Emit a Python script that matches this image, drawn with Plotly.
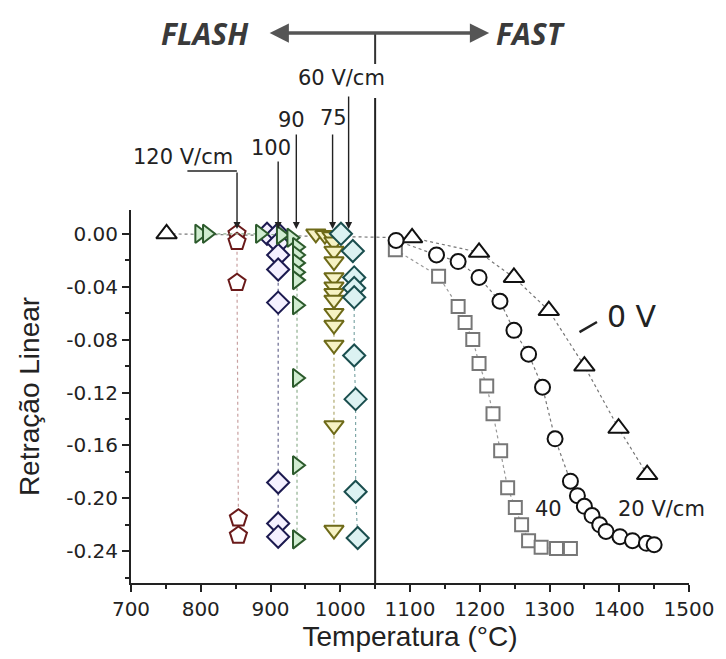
import plotly.graph_objects as go

# ---- data (Temperatura °C, Retração Linear) ----
t_0v = [751, 1103, 1199, 1249, 1299, 1350, 1399, 1440]
r_0v = [0.000, -0.003, -0.014, -0.033, -0.058, -0.100, -0.147, -0.182]

t_20 = [1080, 1138, 1169, 1199, 1229, 1249, 1270, 1290, 1308, 1330, 1340, 1350, 1361, 1372, 1381, 1401, 1419, 1439, 1450]
r_20 = [-0.005, -0.016, -0.021, -0.033, -0.051, -0.073, -0.091, -0.116, -0.155, -0.187, -0.198, -0.206, -0.213, -0.220, -0.225, -0.229, -0.232, -0.234, -0.235]

t_40 = [1079, 1141, 1169, 1179, 1190, 1199, 1210, 1219, 1230, 1240, 1251, 1260, 1270, 1288, 1310, 1330]
r_40 = [-0.012, -0.032, -0.055, -0.067, -0.080, -0.098, -0.115, -0.136, -0.164, -0.192, -0.207, -0.220, -0.232, -0.237, -0.238, -0.238]

t_60 = [1001, 1018, 1020, 1020, 1020, 1020, 1022, 1022, 1025]
r_60 = [0.000, -0.013, -0.033, -0.041, -0.048, -0.092, -0.125, -0.195, -0.230]

t_75 = [965, 978, 988, 991, 991, 991, 991, 991, 991, 991, 991, 991, 991, 991, 991]
r_75 = [0.000, -0.001, -0.002, -0.006, -0.013, -0.021, -0.033, -0.040, -0.045, -0.050, -0.060, -0.069, -0.084, -0.145, -0.224]

t_90 = [798, 809, 885, 915, 930, 938, 938, 938, 938, 938, 938, 938, 938, 938]
r_90 = [0.000, 0.000, 0.000, -0.001, -0.003, -0.010, -0.016, -0.022, -0.029, -0.035, -0.054, -0.109, -0.175, -0.231]

t_100 = [895, 911, 911, 911, 911, 911, 911, 911, 911]
r_100 = [0.000, 0.000, -0.007, -0.016, -0.027, -0.052, -0.188, -0.219, -0.229]

t_120 = [852, 852, 852, 854, 854]
r_120 = [0.000, -0.006, -0.037, -0.215, -0.228]

x_ticks = [700, 800, 900, 1000, 1100, 1200, 1300, 1400, 1500]
y_ticks = [0.00, -0.04, -0.08, -0.12, -0.16, -0.20, -0.24]
y_tick_text = ["0.00", "-0.04", "-0.08", "-0.12", "-0.16", "-0.20", "-0.24"]

fig = go.Figure()

def add(t, r, symbol, size, edge, fill, linecol):
    fig.add_trace(go.Scatter(
        x=t, y=r, mode="lines+markers",
        line=dict(color=linecol, width=1.2, dash="dot"),
        marker=dict(symbol=symbol, size=size, color=fill,
                    line=dict(color=edge, width=2)),
        showlegend=False, hoverinfo="skip"))

add(t_0v, r_0v, "triangle-up", 18, "#111111", "white", "#777777")
add(t_40, r_40, "square", 13, "#777777", "white", "#999999")
add(t_20, r_20, "circle", 15, "#111111", "white", "#777777")
add(t_120, r_120, "pentagon", 18, "#6a1a1a", "white", "#c8a0a0")
add(t_100, r_100, "diamond", 17, "#1c1a50", "#f4f0ff", "#6a6a90")
add(t_90, r_90, "triangle-right", 16, "#2c5a2c", "#d0ecd0", "#90b090")
add(t_75, r_75, "triangle-down", 17, "#6e6a18", "#f6f2c4", "#b0aa70")
add(t_60, r_60, "diamond", 17, "#1a4e4e", "#dcf2f2", "#80a8a8")

# plot-area pixel geometry helpers
L, R, T, B = 131, 695, 210, 583
def px(xp):
    return (xp - L) / (R - L)
def py(yp):
    return (B - yp) / (B - T)

shapes = []
shapes.append(dict(type="line", xref="x", yref="paper", x0=1050, x1=1050,
                   y0=0, y1=py(98), line=dict(color="#222", width=2)))
shapes.append(dict(type="line", xref="x", yref="paper", x0=1050, x1=1050,
                   y0=py(64), y1=py(33), line=dict(color="#333", width=2)))
shapes.append(dict(type="line", xref="paper", yref="paper", x0=px(188), x1=px(238),
                   y0=py(171), y1=py(171), line=dict(color="#222", width=1.5)))
fig.update_layout(shapes=shapes)

ann = []
def arrow(xdata, ytop):
    ann.append(dict(x=xdata, xref="x", y=py(229), yref="paper", ax=0, ay=ytop - 229,
                    axref="pixel", ayref="pixel", showarrow=True, arrowhead=2,
                    arrowsize=1, arrowwidth=1.4, arrowcolor="#222", text=""))
arrow(852, 171)
arrow(911, 160)
arrow(937, 133)
arrow(989, 133)
arrow(1012, 95)

# double arrow FLASH <-> FAST
ann.append(dict(x=px(493), y=py(33), xref="paper", yref="paper", ax=-221, ay=0,
                axref="pixel", ayref="pixel", showarrow=True, arrowhead=2,
                arrowside="end+start", arrowsize=1.1, arrowwidth=3.5,
                arrowcolor="#555", text=""))

def txt(s, xp, yp, size, bold=False, color="#222", family="DejaVu Sans", italic=False):
    if bold:
        s = "<b>" + s + "</b>"
    if italic:
        s = "<i>" + s + "</i>"
    ann.append(dict(x=px(xp), y=py(yp), xref="paper", yref="paper", text=s,
                    xanchor="center", yanchor="middle",
                    showarrow=False, font=dict(size=size, color=color, family=family)))

txt("FLASH", 206, 34, 30, bold=True, italic=True, color="#3a3a3a", family="Open Sans")
txt("FAST", 535, 34, 30, bold=True, italic=True, color="#3a3a3a", family="Open Sans")
txt("60 V/cm", 344, 78, 21)
txt("120 V/cm", 184, 157, 21)
txt("100", 272, 148, 21)
txt("90", 293, 120, 21)
txt("75", 336, 118, 21)
txt("0 V", 637, 316, 30)
txt("40", 553, 509, 21)
txt("20 V/cm", 667, 509, 21)
ann.append(dict(x=px(602), y=py(322), xref="paper", yref="paper",
                ax=-19, ay=11, axref="pixel", ayref="pixel", showarrow=True,
                arrowhead=0, arrowwidth=2.5, arrowcolor="#222", text=""))
fig.update_layout(annotations=ann)

fig.update_layout(
    width=726, height=659,
    margin=dict(l=L, r=726 - R, t=T, b=659 - B),
    paper_bgcolor="white", plot_bgcolor="white",
    font=dict(family="DejaVu Sans", color="#222"),
    xaxis=dict(range=[700, 1500], tickvals=x_ticks, ticks="outside", ticklen=7,
               tickwidth=1.5, tickcolor="#222", showline=True, linecolor="#222",
               linewidth=2, showgrid=False, zeroline=False,
               tickfont=dict(size=20, color="#222", family="DejaVu Sans"),
               minor=dict(dtick=50, ticks="outside", ticklen=4, tickcolor="#222"),
               title=dict(text="Temperatura (°C)",
                          font=dict(size=28, color="#222", family="Liberation Sans"),
                          standoff=6)),
    yaxis=dict(range=[-0.264, 0.018], tickvals=y_ticks, ticktext=y_tick_text,
               ticks="outside", ticklen=7, tickwidth=1.5, tickcolor="#222",
               showline=True, linecolor="#222", linewidth=2, showgrid=False,
               zeroline=False, tickfont=dict(size=20, color="#222", family="DejaVu Sans"),
               minor=dict(tickvals=[0.02, -0.02, -0.06, -0.10, -0.14, -0.18, -0.22, -0.26],
                          ticks="outside", ticklen=4, tickcolor="#222"),
               title=dict(text="Retração Linear",
                          font=dict(size=28, color="#222", family="Liberation Sans"),
                          standoff=18)),
)

fig.write_html("out.html")
